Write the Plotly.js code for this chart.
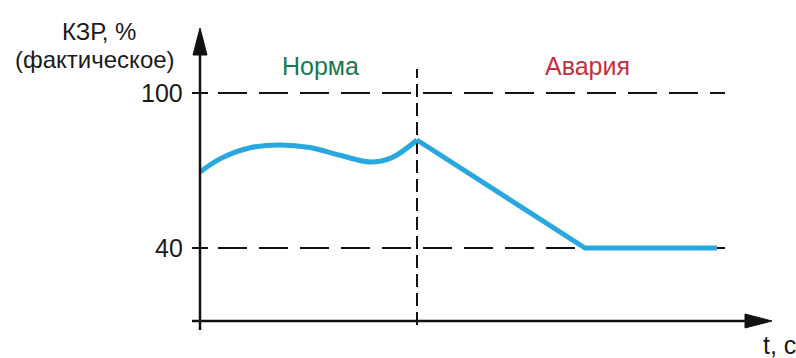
<!DOCTYPE html>
<html>
<head>
<meta charset="utf-8">
<script src="https://cdn.plot.ly/plotly-3.0.1.min.js"></script>
<style>
  html, body { margin: 0; padding: 0; background: #fff; }
  #chart { width: 796px; height: 358px; }
</style>
</head>
<body>
<div id="chart"></div>
<script>
// ---- data ----
const tNorma   = [0, 2.0, 5.0, 8.0, 11.0, 14.0, 17.0, 19.2, 21.7];
const kzrNorma = [69.4, 74.5, 78.8, 79.9, 78.9, 75.9, 73.3, 75.0, 81.8];
const tAvaria   = [21.7, 38.5, 51.7];
const kzrAvaria = [81.8, 40, 40];
const tSwitch = 21.7;             // moment of the accident (vertical dashed line)
const refLevels = [40, 100];      // dashed reference levels
const refStart = 1.8, refEnd = 52.5;
const yTickVals = [40, 100];
const yTickText = ['40', '100'];
const yTitle1 = 'КЗР, %';
const yTitle2 = '(фактическое)';
const xTitle = 't, c';
const zoneLabels = ['Норма', 'Авария'];
const zoneLabelT = [12.0, 38.7];

// ---- layout geometry ----
const W = 796, H = 358;
const M = { l: 200, r: 24, t: 28, b: 37 };
const plotW = W - M.l - M.r, plotH = H - M.t - M.b;
const xRange = [0, 57.2];
const yRange = [11.74, 125.16];
const px2x = px => (px - M.l) / plotW;            // pixel -> paper x
const py2y = py => (H - M.b - py) / plotH;         // pixel -> paper y
const v2y  = v => (v - yRange[0]) / (yRange[1] - yRange[0]); // value -> paper y

const txtFont = { family: 'Liberation Sans, Arial, sans-serif', size: 25, color: '#1a1a1a' };
const titleFont = Object.assign({}, txtFont, { size: 24 });
const blue = '#29a7df';

const traces = [
  { x: tNorma, y: kzrNorma, mode: 'lines', line: { color: blue, width: 5, shape: 'spline', smoothing: 1.0 }, hoverinfo: 'skip' },
  { x: tAvaria, y: kzrAvaria, mode: 'lines', line: { color: blue, width: 5, shape: 'linear' }, hoverinfo: 'skip' }
];

const shapes = [];
// reference dashed levels
refLevels.forEach(v => shapes.push({
  type: 'line', xref: 'x', yref: 'y', x0: refStart, x1: refEnd, y0: v, y1: v,
  line: { color: '#111', width: 2, dash: '29px,12px' }, layer: 'below'
}));
// vertical dashed separator
shapes.push({
  type: 'line', xref: 'x', yref: 'paper', x0: tSwitch, x1: tSwitch, y0: py2y(325), y1: py2y(69),
  line: { color: '#111', width: 2, dash: '13px,6px' }, layer: 'below'
});
// axes lines
shapes.push({ type: 'line', xref: 'paper', yref: 'paper', x0: 0, x1: 0, y0: py2y(330), y1: py2y(40),
  line: { color: '#111', width: 2.5 } });
shapes.push({ type: 'line', xref: 'paper', yref: 'paper', x0: px2x(192), x1: px2x(755), y0: 0, y1: 0,
  line: { color: '#111', width: 2.5 } });
// arrow heads
shapes.push({ type: 'path', xref: 'paper', yref: 'paper',
  path: `M ${px2x(193)} ${py2y(55)} L ${px2x(200)} ${py2y(28)} L ${px2x(207)} ${py2y(55)} Z`,
  fillcolor: '#111', line: { color: '#111', width: 1 } });
shapes.push({ type: 'path', xref: 'paper', yref: 'paper',
  path: `M ${px2x(745)} ${py2y(314)} L ${px2x(772)} ${py2y(321)} L ${px2x(745)} ${py2y(328)} Z`,
  fillcolor: '#111', line: { color: '#111', width: 1 } });
// crossing ticks
yTickVals.forEach(v => shapes.push({
  type: 'line', xref: 'paper', yref: 'paper', x0: px2x(192), x1: px2x(208), y0: v2y(v), y1: v2y(v),
  line: { color: '#111', width: 2 }
}));

const annotations = [];
yTickVals.forEach((v, i) => annotations.push({
  xref: 'paper', yref: 'y', x: px2x(185), y: v, text: yTickText[i], showarrow: false,
  xanchor: 'right', yanchor: 'middle', font: txtFont
}));
annotations.push({ xref: 'paper', yref: 'paper', x: px2x(99), y: py2y(31), text: yTitle1, showarrow: false,
  xanchor: 'center', yanchor: 'middle', font: titleFont, borderpad: 0 });
annotations.push({ xref: 'paper', yref: 'paper', x: px2x(95), y: py2y(60), text: yTitle2, showarrow: false,
  xanchor: 'center', yanchor: 'middle', font: titleFont, borderpad: 0 });
annotations.push({ xref: 'paper', yref: 'paper', x: px2x(779), y: py2y(345), text: xTitle, showarrow: false,
  xanchor: 'center', yanchor: 'middle', font: txtFont });
const zoneColors = ['#17794f', '#c4303d'];
zoneLabels.forEach((s, i) => annotations.push({
  xref: 'x', yref: 'paper', x: zoneLabelT[i], y: py2y(66), text: s, showarrow: false,
  xanchor: 'center', yanchor: 'middle', font: Object.assign({}, txtFont, { color: zoneColors[i] })
}));

const layout = {
  width: W, height: H,
  margin: { l: M.l, r: M.r, t: M.t, b: M.b, pad: 0 },
  paper_bgcolor: '#fff', plot_bgcolor: '#fff',
  showlegend: false,
  xaxis: { range: xRange, visible: false, fixedrange: true },
  yaxis: { range: yRange, visible: false, fixedrange: true },
  shapes: shapes,
  annotations: annotations
};

Plotly.newPlot('chart', traces, layout, { staticPlot: true, displayModeBar: false });
</script>
</body>
</html>
